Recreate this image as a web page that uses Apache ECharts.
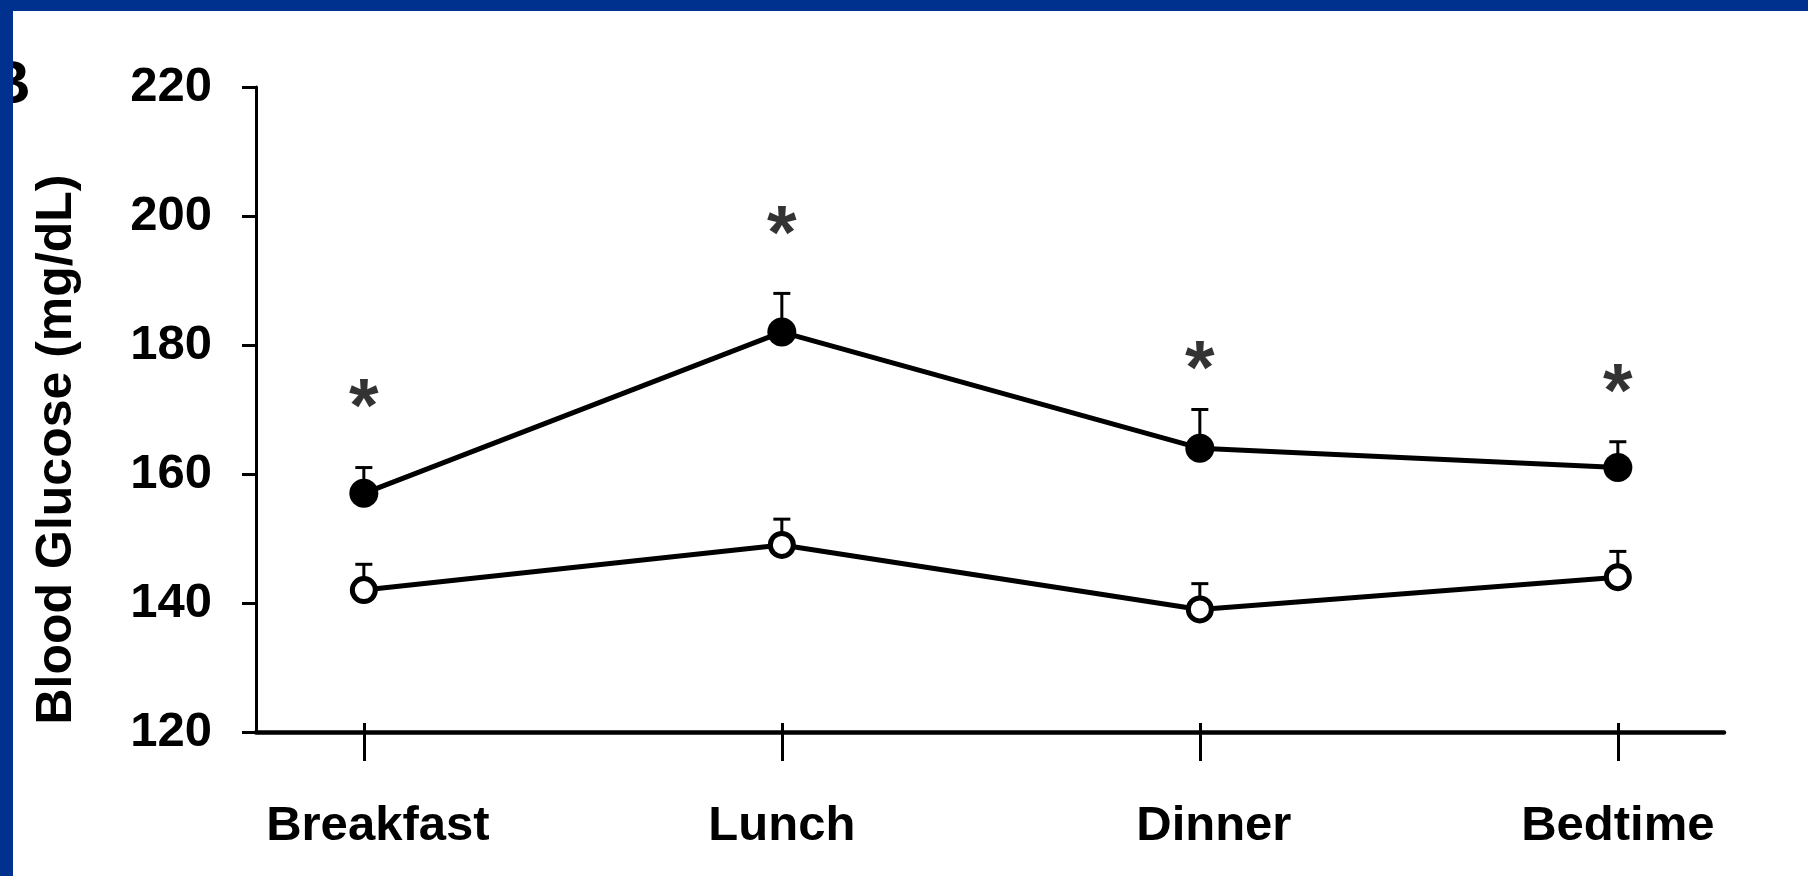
<!DOCTYPE html>
<html>
<head>
<meta charset="utf-8">
<script src="https://cdn.jsdelivr.net/npm/echarts@6/dist/echarts.min.js"></script>
<style>
  html, body { margin: 0; padding: 0; background: #ffffff; }
  #chart { width: 1808px; height: 876px; }
</style>
</head>
<body>
<div id="chart"></div>
<script>
// Meal-time blood glucose, mean + SE (mg/dL)
const categories = ['Breakfast', 'Lunch', 'Dinner', 'Bedtime'];
const filledMean = [157, 182, 164, 161];
const filledSE   = [4, 6, 6, 4];
const openMean   = [142, 149, 139, 144];
const openSE     = [4, 4, 4, 4];
// height (mg/dL) of the significance asterisk above each time point
const starLevel  = [172.5, 199.3, 178.4, 174.9];
const yMin = 120, yMax = 220, yStep = 20;

const FONT = '"Liberation Sans", Arial, Helvetica, sans-serif';
const BLUE = '#00318F';
const catIndex = categories.map((_, i) => i);
const toPoints = arr => arr.map((v, i) => [i, v]);
// some category labels sit slightly right of their tick
const labelStyleKey = ['r', 'c', 'r', 'c'];

function errorBars(mean, se) {
  return {
    type: 'custom',
    z: 1,
    silent: true,
    data: mean.map((m, i) => [i, m, m + se[i]]),
    renderItem: (params, api) => {
      const base = api.coord([api.value(0), api.value(1)]);
      const top = api.coord([api.value(0), api.value(2)]);
      const half = 8.5;
      return {
        type: 'group',
        children: [
          { type: 'line', shape: { x1: base[0], y1: base[1], x2: top[0], y2: top[1] },
            style: { stroke: '#000', lineWidth: 3 } },
          { type: 'line', shape: { x1: top[0] - half, y1: top[1], x2: top[0] + half, y2: top[1] },
            style: { stroke: '#000', lineWidth: 3 } }
        ]
      };
    }
  };
}

const chart = echarts.init(document.getElementById('chart'));

const xCommon = {
  type: 'value',
  min: -0.258,
  max: 3.254,
  splitLine: { show: false }
};

chart.setOption({
  backgroundColor: '#ffffff',
  animation: false,
  grid: { left: 256, right: 84, top: 87, bottom: 144 },
  xAxis: [
    Object.assign({}, xCommon, {
      position: 'bottom',
      axisLine: { show: true, onZero: false, lineStyle: { color: '#000', width: 4.5 } },
      axisTick: { show: true, inside: false, length: 29, customValues: catIndex,
                  lineStyle: { color: '#000', width: 3 } },
      axisLabel: {
        show: true, customValues: catIndex, margin: 70,
        formatter: v => {
          const i = Math.round(v);
          return categories[i] ? '{' + labelStyleKey[i] + '|' + categories[i] + '}' : '';
        },
        color: '#000', fontFamily: FONT, fontWeight: 'bold', fontSize: 49,
        rich: {
          c: { color: '#000', fontFamily: FONT, fontWeight: 'bold', fontSize: 49 },
          r: { color: '#000', fontFamily: FONT, fontWeight: 'bold', fontSize: 49, padding: [0, 0, 0, 28] }
        }
      }
    }),
    Object.assign({}, xCommon, {
      position: 'bottom',
      offset: 0,
      axisLine: { show: false, onZero: false },
      axisTick: { show: true, inside: true, length: 9, customValues: catIndex,
                  lineStyle: { color: '#000', width: 3 } },
      axisLabel: { show: false }
    })
  ],
  yAxis: {
    type: 'value',
    min: yMin,
    max: yMax,
    interval: yStep,
    splitLine: { show: false },
    axisLine: { show: true, onZero: false, lineStyle: { color: '#000', width: 3 } },
    axisTick: { show: true, inside: false, length: 14, lineStyle: { color: '#000', width: 3 } },
    axisLabel: { margin: 44, color: '#000', fontFamily: FONT, fontWeight: 'bold', fontSize: 49 },
    name: 'Blood Glucose (mg/dL)',
    nameLocation: 'middle',
    nameRotate: 90,
    nameGap: 174,
    nameTextStyle: { color: '#000', fontFamily: FONT, fontWeight: 'bold', fontSize: 50,
                     padding: [0, 80, 0, 0] }
  },
  series: [
    errorBars(filledMean, filledSE),
    errorBars(openMean, openSE),
    {
      name: 'filled',
      type: 'line',
      z: 3,
      data: toPoints(filledMean),
      symbol: 'circle',
      symbolSize: 29,
      lineStyle: { color: '#000', width: 5 },
      itemStyle: { color: '#000', borderColor: '#000', borderWidth: 0 }
    },
    {
      name: 'open',
      type: 'line',
      z: 3,
      data: toPoints(openMean),
      symbol: 'circle',
      symbolSize: 23,
      lineStyle: { color: '#000', width: 5 },
      itemStyle: { color: '#fff', borderColor: '#000', borderWidth: 5 }
    },
    {
      name: 'significance',
      type: 'scatter',
      z: 4,
      silent: true,
      data: toPoints(starLevel),
      symbolSize: 1,
      itemStyle: { color: 'rgba(0,0,0,0)' },
      label: {
        show: true, position: 'inside', formatter: '*', offset: [0, 17],
        color: '#000', fontFamily: FONT, fontWeight: 'bold', fontSize: 76
      }
    }
  ],
  graphic: [
    { type: 'text', z: 10, left: -14, top: 55,
      style: { text: 'B', fill: '#000', font: 'bold 62px ' + FONT } },
    { type: 'rect', z: 20, shape: { x: 0, y: 0, width: 1808, height: 11 }, style: { fill: BLUE } },
    { type: 'rect', z: 20, shape: { x: 0, y: 0, width: 13, height: 876 }, style: { fill: BLUE } }
  ]
});
</script>
</body>
</html>
